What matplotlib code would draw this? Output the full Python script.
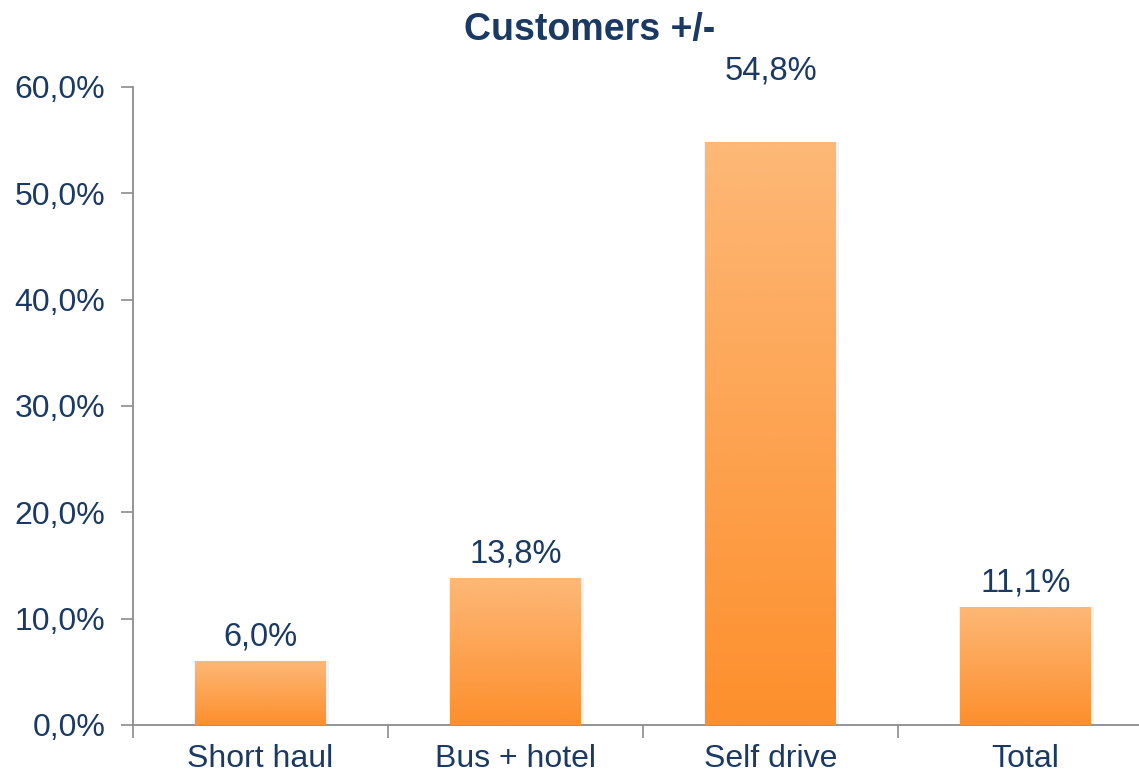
import numpy as np
import matplotlib.pyplot as plt
from matplotlib.ticker import FuncFormatter, FixedLocator
from matplotlib.colors import LinearSegmentedColormap

plt.rcParams['font.family'] = ['Liberation Sans', 'DejaVu Sans']

categories = ['Short haul', 'Bus + hotel', 'Self drive', 'Total']
values = [6.0, 13.8, 54.8, 11.1]
labels = ['6,0%', '13,8%', '54,8%', '11,1%']

navy = '#1B3A63'
grey = '#8C8C8C'

fig = plt.figure(figsize=(11.39, 7.75), dpi=100)
ax = fig.add_axes([133/1139, 1-725/775, (1153-133)/1139, (725-87)/775])

x = np.arange(len(categories))
bw = 0.51
bars = ax.bar(x, values, width=bw, color='none', edgecolor='none', zorder=3)

# vertical orange gradient in each bar
grad = np.linspace(0, 1, 256).reshape(-1, 1)
cmap = LinearSegmentedColormap.from_list('og', ['#FD8F2C', '#FDB877'])
for b in bars:
    x0, w, h = b.get_x(), b.get_width(), b.get_height()
    # soft shadow
    ax.bar(x0 + w/2 + 0.004, h, width=w + 0.016, color='#000000', alpha=0.05,
           zorder=2, edgecolor='none')
    im = ax.imshow(grad, extent=[x0, x0 + w, 0, h], aspect='auto', cmap=cmap,
                   origin='lower', zorder=3)
    im.set_clip_path(b)

ymax = 60
for xi, v, lab in zip(x, values, labels):
    # excel pushes the label of the tallest bar up to the plot top
    ypos = v + 0.8 if v + 0.8 < ymax - 8 else ymax
    ax.text(xi, ypos, lab, ha='center', va='bottom', fontsize=23.5, color=navy,
            clip_on=False)

ax.set_xlim(-0.5, len(categories) - 0.5)
ax.set_ylim(0, ymax)
ax.set_yticks(np.arange(0, 61, 10))
ax.yaxis.set_major_formatter(FuncFormatter(lambda v, p: f'{v:.1f}'.replace('.', ',') + '%'))
ax.set_xticks(x)
ax.set_xticklabels(categories)
ax.xaxis.set_minor_locator(FixedLocator(np.arange(-0.5, len(categories), 1.0)))
ax.tick_params(axis='x', which='major', length=0, pad=14, labelsize=23, labelcolor=navy)
ax.tick_params(axis='x', which='minor', length=9, color=grey, width=1.2, direction='out')
ax.tick_params(axis='y', length=9, color=grey, width=1.2, labelsize=23, labelcolor=navy, pad=11)

for s in ['top', 'right']:
    ax.spines[s].set_visible(False)
for s in ['left', 'bottom']:
    ax.spines[s].set_color(grey)
    ax.spines[s].set_linewidth(1.3)

fig.text(590/1139, 1 - 30/775, 'Customers +/-', ha='center', va='center',
         fontsize=27, fontweight='bold', color=navy)

fig.savefig('out.png', dpi=100)
